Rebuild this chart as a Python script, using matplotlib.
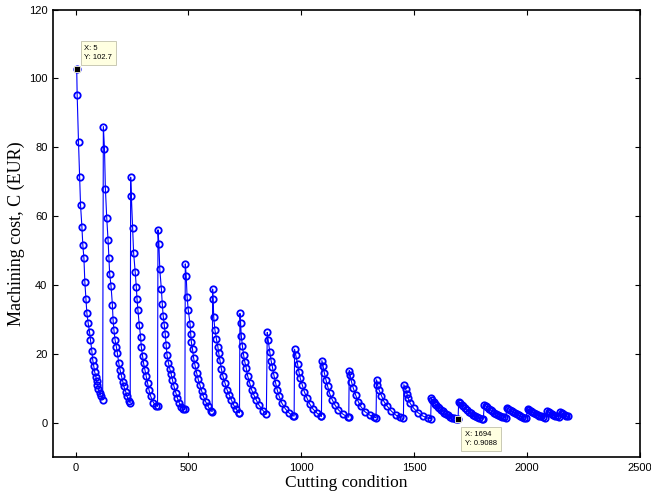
import matplotlib
matplotlib.use("Agg")
import matplotlib.pyplot as plt

# ---- data (x = cutting-condition index, y = cost in EUR) ----
seg_x = [
    [5, 7, 13, 18, 22, 28, 32, 37, 41, 46, 50, 56, 62, 66, 72, 76, 81, 85, 90, 93, 97, 101, 107, 113, 120],
    [123, 128, 132, 138, 144, 148, 151, 157, 163, 166, 170, 175, 181, 185, 191, 197, 203, 209, 214, 222, 228, 236, 242],
    [244, 247, 253, 257, 264, 269, 272, 276, 282, 288, 291, 297, 301, 307, 313, 319, 325, 333, 345, 357, 363],
    [365, 369, 373, 380, 384, 388, 393, 397, 401, 405, 411, 417, 423, 429, 436, 444, 451, 460, 469, 477, 484],
    [486, 490, 494, 499, 507, 510, 513, 518, 523, 529, 536, 543, 551, 558, 565, 576, 587, 598, 605],
    [607, 609, 612, 617, 624, 630, 634, 639, 646, 653, 662, 671, 680, 690, 700, 712, 724, 726],
    [728, 731, 734, 739, 744, 750, 756, 762, 771, 780, 789, 800, 812, 830, 845],
    [849, 853, 860, 866, 872, 878, 886, 893, 902, 914, 929, 947, 961, 968],
    [970, 975, 983, 989, 995, 1004, 1013, 1025, 1037, 1052, 1070, 1086, 1089],
    [1091, 1096, 1102, 1109, 1117, 1125, 1137, 1149, 1164, 1183, 1205, 1210],
    [1212, 1216, 1222, 1230, 1240, 1252, 1263, 1281, 1302, 1322, 1331],
    [1333, 1337, 1344, 1355, 1366, 1381, 1399, 1418, 1435, 1452],
    [1454, 1462, 1468, 1473, 1482, 1497, 1516, 1538, 1560, 1573],
    [1575, 1580, 1586, 1592, 1598, 1604, 1611, 1618, 1626, 1634, 1642, 1650, 1659, 1668, 1677, 1686, 1694],
    [1697, 1703, 1710, 1717, 1725, 1733, 1741, 1750, 1759, 1768, 1778, 1788, 1798, 1806],
    [1810, 1816, 1823, 1830, 1838, 1846, 1854, 1862, 1870, 1879, 1888, 1897, 1905],
    [1911, 1917, 1924, 1931, 1938, 1946, 1954, 1962, 1970, 1978, 1986, 1994],
    [2003, 2009, 2016, 2023, 2030, 2038, 2046, 2054, 2062, 2070, 2078],
    [2089, 2095, 2102, 2109, 2116, 2124, 2132, 2140],
    [2147, 2153, 2160, 2167, 2174, 2180],
]
seg_y = [
    [102.7, 95.3, 81.4, 71.3, 63.2, 56.9, 51.7, 47.7, 40.9, 36.0, 31.8, 28.8, 26.2, 24.0, 20.8, 18.2, 16.3, 14.6, 13.3, 12.0, 11.0, 9.8, 8.7, 7.8, 6.7],
    [86.0, 79.6, 68.0, 59.5, 52.9, 47.7, 43.2, 39.7, 34.3, 29.9, 26.8, 24.0, 21.9, 20.2, 17.4, 15.3, 13.6, 11.9, 10.5, 9.0, 7.6, 6.3, 5.7],
    [71.3, 65.9, 56.4, 49.4, 43.8, 39.4, 36.0, 32.8, 28.4, 25.0, 22.1, 19.2, 17.3, 15.3, 13.4, 11.5, 9.5, 7.6, 5.8, 4.9, 4.7],
    [56.0, 51.9, 44.5, 38.8, 34.5, 31.0, 28.3, 25.8, 22.5, 19.6, 17.4, 15.7, 14.2, 12.4, 10.5, 8.7, 7.1, 5.6, 4.5, 3.9, 3.8],
    [46.1, 42.6, 36.5, 32.8, 28.6, 25.7, 23.3, 21.3, 18.7, 16.6, 14.5, 12.6, 10.8, 9.3, 7.8, 6.1, 4.7, 3.5, 3.2],
    [38.8, 35.9, 30.6, 27.0, 24.2, 22.1, 20.2, 18.2, 15.5, 13.4, 11.5, 9.5, 8.1, 6.6, 5.1, 3.9, 2.9, 2.8],
    [31.7, 28.9, 25.2, 22.3, 19.7, 17.5, 15.8, 13.6, 11.5, 9.5, 8.1, 6.6, 5.1, 3.5, 2.5],
    [26.2, 24.0, 20.6, 18.0, 16.1, 13.9, 11.5, 9.5, 7.6, 5.6, 4.0, 2.7, 2.0, 1.9],
    [21.3, 19.7, 17.1, 14.8, 12.9, 11.0, 9.0, 7.1, 5.4, 3.9, 2.7, 1.9, 1.8],
    [18.0, 16.5, 14.4, 12.4, 10.5, 8.5, 6.6, 5.1, 3.7, 2.5, 1.6, 1.6],
    [15.1, 13.9, 11.9, 10.0, 8.1, 6.1, 4.7, 3.2, 2.2, 1.6, 1.4],
    [12.4, 11.0, 9.5, 7.8, 6.1, 4.7, 3.3, 2.2, 1.5, 1.2],
    [11.0, 9.7, 8.3, 7.1, 5.6, 4.2, 2.9, 1.9, 1.3, 1.1],
    [7.1, 6.6, 6.1, 5.5, 5.0, 4.6, 4.1, 3.7, 3.3, 2.8, 2.4, 2.1, 1.7, 1.4, 1.2, 1.0, 0.9088],
    [6.1, 5.7, 5.2, 4.7, 4.1, 3.6, 3.1, 2.7, 2.3, 1.9, 1.6, 1.3, 1.1, 1.0],
    [5.2, 4.8, 4.5, 4.0, 3.6, 3.3, 2.9, 2.6, 2.3, 2.0, 1.7, 1.5, 1.3],
    [4.3, 4.0, 3.7, 3.3, 3.0, 2.7, 2.4, 2.1, 1.8, 1.6, 1.4, 1.2],
    [4.0, 3.7, 3.4, 3.1, 2.8, 2.5, 2.2, 2.0, 1.8, 1.6, 1.4],
    [3.3, 3.0, 2.8, 2.5, 2.3, 2.0, 1.8, 1.7],
    [3.0, 2.7, 2.5, 2.2, 2.0, 1.8],
]
x_ticks = [0, 500, 1000, 1500, 2000, 2500]
y_ticks = [0, 20, 40, 60, 80, 100, 120]
tip_x = [5, 1694]
tip_y = [102.7, 0.9088]
tip_text = ["X: 5\nY: 102.7", "X: 1694\nY: 0.9088"]
x_label = "Cutting condition"
y_label = "Machining cost, C (EUR)"

x_all = [v for s in seg_x for v in s]
y_all = [v for s in seg_y for v in s]

fig = plt.figure(figsize=(6.51, 4.95), dpi=100)
ax = fig.add_axes([53 / 651, 38 / 495, 587 / 651, 447.5 / 495])

ax.plot(x_all, y_all, '-', color='#0000ff', lw=0.8, marker='o', ms=4.6,
        mfc='none', mec='#0000ff', mew=1.3, zorder=3)

# data tips
ax.plot(tip_x, tip_y, 's', ms=4.2, mfc='black', mec='#ffffe0', mew=0.6, zorder=6, ls='none')
bb = dict(boxstyle='square,pad=0.5', fc='#ffffe1', ec='#c9c9b4', lw=0.7)
ax.annotate(tip_text[0], xy=(tip_x[0], tip_y[0]), xytext=(5.6, 5.6), textcoords='offset points',
            ha='left', va='bottom', fontsize=5.5, family='Liberation Sans', linespacing=1.45,
            bbox=bb, zorder=7)
ax.annotate(tip_text[1], xy=(tip_x[1], tip_y[1]), xytext=(5.2, -8.0), textcoords='offset points',
            ha='left', va='top', fontsize=5.5, family='Liberation Sans', linespacing=1.45,
            bbox=bb, zorder=7)

ax.set_xlim(-100, 2500)
ax.set_ylim(-10, 120)
ax.set_xticks(x_ticks)
ax.set_yticks(y_ticks)
ax.set_xticklabels([str(t) for t in x_ticks], family='Liberation Sans', fontsize=8)
ax.set_yticklabels([str(t) for t in y_ticks], family='Liberation Sans', fontsize=8)
ax.tick_params(direction='in', length=3.6, width=0.8, top=True, right=True, pad=4)
for sp in ax.spines.values():
    sp.set_linewidth(1.2)

ax.set_xlabel(x_label, family='Liberation Serif', fontsize=12.5, labelpad=2)
ax.set_ylabel(y_label, family='Liberation Serif', fontsize=13, labelpad=3)

fig.savefig('out.png', dpi=100)
